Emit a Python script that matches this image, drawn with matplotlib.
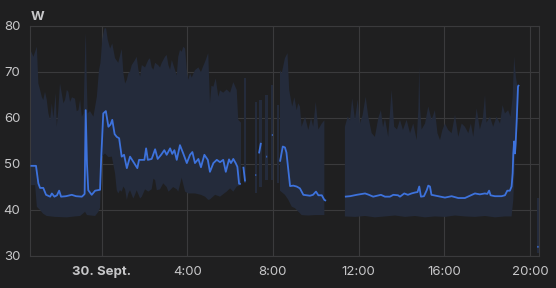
import numpy as np
import matplotlib
matplotlib.use('Agg')
from matplotlib import pyplot as plt

nan = np.nan

# time in hours relative to midnight 30 Sept (negative = evening of 29 Sept)
mean_t = [-3.32, -3.06, -2.95, -2.87, -2.72, -2.59, -2.40, -2.32, -2.20, -2.08, -1.98, -1.89,
          -1.66, -1.39, -1.19, -0.92, -0.85, -0.79, -0.74, -0.68, -0.62, -0.46, -0.30, -0.07,
          -0.02, 0.08, 0.20, 0.32, 0.42, 0.50, 0.61, 0.71, 0.82, 0.94, 1.05, 1.18, 1.33, 1.48,
          1.67, 1.75, 2.00, 2.08, 2.16, 2.34, 2.50, 2.62, 2.78, 2.93, 3.04, 3.20, 3.30, 3.40,
          3.51, 3.66, 3.82, 3.98, 4.13, 4.24, 4.36, 4.52, 4.64, 4.80, 4.96, 5.06, 5.22, 5.38,
          5.53, 5.68, 5.80, 5.95, 6.04, 6.15, 6.26, 6.34, 6.42, 6.50, 6.56, 6.62, 6.70, 6.93,
          7.18, 7.22, 7.28, 7.35, 7.44, 7.54, 7.69, 7.73, 7.82, 7.95, 7.99, 8.14, 8.33, 8.46,
          8.56, 8.63, 8.72, 8.80, 8.95, 9.11, 9.26, 9.42, 9.73, 9.87, 10.01, 10.12, 10.28, 10.40,
          10.48, 10.90, 11.36, 11.60, 11.91, 12.30, 12.48, 12.68, 12.86, 13.04, 13.23, 13.46,
          13.62, 13.84, 13.93, 14.13, 14.30, 14.47, 14.63, 14.75, 14.83, 14.91, 15.05, 15.18,
          15.25, 15.33, 15.40, 15.72, 16.03, 16.34, 16.65, 16.96, 17.20, 17.43, 17.66, 17.89,
          18.01, 18.09, 18.16, 18.36, 18.67, 18.83, 18.94, 19.06, 19.14, 19.19, 19.22, 19.26,
          19.30, 19.33, 19.38, 19.44, 19.48, 19.76, 20.34, 20.40]
mean_w = [49.6, 49.6, 45.8, 44.8, 44.8, 43.3, 42.9, 43.6, 42.9, 43.2, 44.2, 42.9,
          43.0, 43.3, 43.0, 42.9, 43.2, 43.5, 61.7, 50.0, 44.3, 43.3, 44.2, 44.4,
          50.9, 61.0, 61.5, 58.1, 58.6, 59.6, 56.5, 55.9, 55.6, 51.6, 52.0, 49.1, 51.6, 50.5,
          49.1, 50.9, 50.9, 53.4, 50.9, 51.1, 53.2, 51.1, 52.0, 53.0, 52.0, 53.4, 52.2, 53.0,
          50.9, 54.1, 52.2, 50.2, 52.0, 52.6, 50.2, 51.1, 49.3, 52.0, 50.9, 48.3, 50.2, 50.9,
          50.4, 50.9, 48.3, 51.0, 50.2, 51.1, 50.2, 49.4, 45.7, 45.7, nan, 49.4, 46.2, nan,
          47.6, 47.6, nan, 52.3, 54.6, nan, 51.6, 51.6, nan, 56.3, 56.3, nan, 50.5, 53.8,
          53.6, 52.5, 48.7, 45.2, 45.3, 45.1, 44.7, 43.3, 43.1, 43.3, 44.0, 43.2, 43.2, 42.2,
          42.0, nan, 42.9, 43.0, 43.3, 43.6, 43.3, 42.9, 43.1, 43.3, 42.9, 42.9,
          43.3, 43.2, 42.9, 43.6, 43.3, 43.6, 43.8, 43.9, 45.1, 42.9, 43.0, 44.3,
          45.3, 45.1, 43.3, 43.0, 42.7, 43.0, 42.6, 42.6, 43.1, 43.6, 43.4, 43.6,
          43.5, 44.2, 43.2, 43.0, 43.0, 43.2, 44.2, 44.2, 45.1, 48.0, 52.3, 54.9,
          52.3, 54.5, 59.6, 66.8, 67.2, nan, 32.0, 32.0]

# min / max envelope, segments separated by nan
upper_t = [-3.32, -3.18, -3.02, -2.95, -2.87, -2.79, -2.72, -2.64, -2.56, -2.48, -2.40, -2.32,
           -2.25, -2.14, -2.09, -2.02, -1.94, -1.86, -1.78, -1.70, -1.62, -1.55, -1.47, -1.38,
           -1.24, -1.16, -1.08, -1.00, -0.92, -0.84, -0.76, -0.73, -0.70, -0.65, -0.54, -0.38,
           -0.22, -0.12, -0.05, 0.04, 0.14, 0.21, 0.29, 0.40, 0.50, 0.63, 0.78, 0.86, 0.94,
           1.02, 1.10, 1.18, 1.25, 1.33, 1.41, 1.56, 1.64, 1.72, 1.80, 1.88, 2.03, 2.18, 2.26,
           2.34, 2.42, 2.50, 2.64, 2.73, 2.81, 2.88, 2.96, 3.04, 3.12, 3.20, 3.28, 3.43, 3.51,
           3.58, 3.66, 3.74, 3.82, 3.90, 3.98, 4.05, 4.13, 4.21, 4.36, 4.52, 4.64, 4.74, 4.83,
           4.98, 5.06, 5.13, 5.22, 5.33, 5.45, 5.53, 5.68, 5.84, 6.00, 6.15, 6.31, 6.38, 6.51,
           6.57, 6.63, 6.75, 6.90, 7.15, 7.27, 7.30, 7.33, 7.48, 7.55, 7.65, 7.77, 7.83, 7.89,
           8.00, 8.10, 8.17, 8.28, 8.30, 8.33, 8.41, 8.56, 8.68, 8.76, 8.90, 9.00, 9.11, 9.18,
           9.26, 9.34, 9.50, 9.65, 9.78, 9.88, 10.00, 10.12, 10.28, 10.40, 10.90, 11.36, 11.49,
           11.60, 11.70, 11.83, 11.96, 12.06, 12.18, 12.33, 12.45, 12.61, 12.76, 12.92, 13.04,
           13.14, 13.23, 13.38, 13.54, 13.66, 13.79, 13.93, 14.07, 14.24, 14.40, 14.55, 14.71,
           14.79, 14.83, 14.87, 14.94, 15.10, 15.25, 15.41, 15.56, 15.68, 15.80, 15.91, 16.03,
           16.18, 16.34, 16.50, 16.65, 16.81, 16.96, 17.12, 17.24, 17.35, 17.51, 17.66, 17.80,
           17.90, 17.97, 18.13, 18.28, 18.44, 18.60, 18.72, 18.83, 18.98, 19.09, 19.19, 19.26,
           19.34, 19.40, 19.48, 19.90, 20.34, 20.42]
upper_w = [74.8, 73.3, 75.5, 67.5, 66.1, 64.6, 63.9, 65.7, 64.0, 61.0, 59.6, 63.2,
           60.0, 65.4, 58.1, 61.7, 67.5, 65.4, 63.2, 64.0, 66.1, 65.7, 63.5, 64.5,
           64.2, 61.5, 61.7, 64.0, 60.3, 61.0, 76.0, 78.4, 70.0, 61.0, 61.5, 60.3,
           64.6, 70.4, 72.0, 77.3, 79.5, 79.5, 77.0, 75.1, 76.2, 73.0, 72.0, 73.5, 75.0,
           69.7, 67.5, 68.3, 69.7, 70.1, 71.5, 72.6, 73.3, 70.5, 69.0, 71.5, 71.0, 72.6, 73.0,
           71.0, 70.5, 72.0, 71.5, 71.0, 72.0, 72.6, 73.3, 73.7, 71.5, 70.5, 72.6, 70.4, 69.3,
           73.3, 74.8, 74.4, 75.5, 75.1, 70.5, 68.3, 69.7, 68.8, 70.4, 71.0, 70.0, 71.2, 72.2,
           74.1, 63.2, 67.0, 66.8, 68.6, 64.6, 66.0, 65.5, 66.2, 65.5, 67.8, 66.1, 59.6, 59.0,
           nan, 68.6, 68.6, nan, 63.5, 63.5, nan, 63.9, 63.9, nan, 65.0, 65.0, nan, 67.2,
           67.2, nan, 62.8, 62.8, nan, 70.4, 69.7, 73.0, 74.1, 66.0, 62.5, 64.5, 61.7, 63.2,
           62.5, 58.1, 60.3, 57.4, 60.0, 58.1, 63.5, 57.5, 58.8, 59.5, nan, 58.1, 60.3,
           59.5, 64.3, 59.6, 64.0, 58.8, 60.5, 64.6, 60.3, 56.7, 55.9, 60.0, 61.7,
           58.0, 59.9, 55.9, 66.1, 58.1, 57.5, 59.6, 57.4, 59.6, 56.7, 58.8, 55.2,
           62.0, 71.2, 62.0, 57.5, 58.8, 62.5, 59.6, 61.7, 56.7, 55.2, 57.4, 58.8,
           57.4, 56.7, 60.7, 55.9, 58.8, 58.1, 56.7, 58.8, 55.9, 62.1, 57.5, 60.0,
           65.0, 59.0, 60.3, 58.1, 60.3, 58.8, 62.8, 61.0, 61.7, 60.3, 64.6, 73.3,
           69.0, 67.2, 67.2, nan, 42.6, 42.6]
lower_t = [-3.32, -3.10, -3.02, -2.87, -2.73, -2.56, -2.17, -1.62, -1.24, -1.00, -0.77, -0.68,
           -0.30, -0.15, -0.07, 0.01, 0.16, 0.32, 0.48, 0.63, 0.71, 0.78, 0.86, 0.94, 1.02,
           1.10, 1.18, 1.25, 1.33, 1.48, 1.56, 1.64, 1.80, 1.88, 2.03, 2.18, 2.34, 2.42, 2.50,
           2.58, 2.73, 2.88, 3.04, 3.12, 3.20, 3.34, 3.51, 3.58, 3.74, 3.90, 4.05, 4.36, 4.64,
           4.83, 4.98, 5.06, 5.30, 5.53, 5.84, 6.00, 6.15, 6.31, 6.46, 6.51,
           6.57, 6.63, 6.75, 6.90, 7.15, 7.27, 7.30, 7.33, 7.48, 7.55, 7.65, 7.77, 7.83, 7.89,
           8.00, 8.10, 8.17, 8.28, 8.30, 8.33, 8.56, 8.72, 8.88, 9.03, 9.11, 9.34, 9.64, 9.96,
           10.40, 10.90, 11.36, 11.83, 12.30, 12.76, 13.23, 13.70, 14.17, 14.63, 15.10, 15.56,
           16.03, 16.50, 16.96, 17.43, 17.90, 18.37, 18.83, 19.14, 19.22, 19.30, 19.38, 19.48,
           19.90, 20.34, 20.42]
lower_w = [45.4, 45.4, 40.7, 40.0, 39.2, 38.7, 38.5, 38.4, 38.6, 38.7, 39.6, 38.9,
           38.7, 39.6, 40.5, 51.6, 52.3, 51.5, 51.6, 48.0, 44.3, 43.6, 44.3, 44.0, 45.1,
           44.5, 42.2, 43.6, 44.3, 42.5, 43.3, 44.3, 42.5, 42.9, 44.5, 44.0, 44.5, 46.8, 46.5,
           44.3, 44.5, 45.8, 45.0, 44.0, 44.3, 45.0, 44.5, 44.0, 47.0, 44.0, 43.6, 43.6, 43.3,
           42.9, 42.2, 42.3, 43.3, 42.9, 44.0, 44.7, 44.0, 45.1, 45.4, 45.4,
           nan, 45.8, 45.8, nan, 43.6, 43.6, nan, 45.0, 45.0, nan, 46.5, 46.5, nan, 46.5,
           46.5, nan, 45.8, 45.8, nan, 44.2, 43.3, 42.2, 40.7, 40.4, 40.0, 38.9, 38.8, 38.9,
           38.9, nan, 38.6, 38.5, 38.7, 38.4, 38.6, 38.8, 38.5, 38.7, 38.4, 38.6,
           38.5, 38.8, 38.6, 38.5, 38.7, 38.4, 38.6, 38.6, 42.2, 50.9, 54.5, 67.2,
           nan, 30.6, 30.6]

tick_hours = [0, 4, 8, 12, 16, 20]
tick_labels = ['30. Sept.', '4:00', '8:00', '12:00', '16:00', '20:00']
y_ticks = [30, 40, 50, 60, 70, 80]

bg = '#1f1f20'
grid_c = '#3a3a3c'
text_c = '#c7c7c9'
line_c = '#3d72dc'
band_c = '#242b3b'


def segments(t, v):
    t = np.asarray(t, dtype=float)
    v = np.asarray(v, dtype=float)
    ok = ~np.isnan(v)
    edges = np.flatnonzero(np.diff(np.r_[0, ok.astype(int), 0]))
    return [(t[a:b], v[a:b]) for a, b in zip(edges[::2], edges[1::2])]


plt.rcParams['font.family'] = ['Inter', 'DejaVu Sans']
fig = plt.figure(figsize=(5.56, 2.88), dpi=100, facecolor=bg)
ax = fig.add_axes([30 / 556, 32 / 288, 509 / 556, 230 / 288], facecolor=bg)

# min/max band
for (tu, vu), (tl, vl) in zip(segments(upper_t, upper_w), segments(lower_t, lower_w)):
    ax.fill(np.r_[tu, tl[::-1]], np.r_[vu, vl[::-1]], color=band_c, lw=0, zorder=1)

ax.plot(mean_t, mean_w, color=line_c, lw=1.3, zorder=3, solid_capstyle='butt')

ax.set_xlim(-3.34, 20.42)
ax.set_ylim(30, 80)
ax.set_xticks(tick_hours)
ax.set_xticklabels(tick_labels)
ax.set_yticks(y_ticks)
ax.grid(True, color=grid_c, lw=0.8, zorder=0)
ax.set_axisbelow(True)
for s in ax.spines.values():
    s.set_color(grid_c)
    s.set_linewidth(0.8)
ax.tick_params(length=0, colors=text_c, labelsize=9.5, pad=7)
ax.get_xticklabels()[0].set_fontweight('bold')

fig.text(31 / 556, 1 - 17 / 288, 'W', color=text_c, fontsize=9.5, fontweight='bold',
         ha='left', va='center')

fig.savefig('out.png', dpi=100, facecolor=bg)
